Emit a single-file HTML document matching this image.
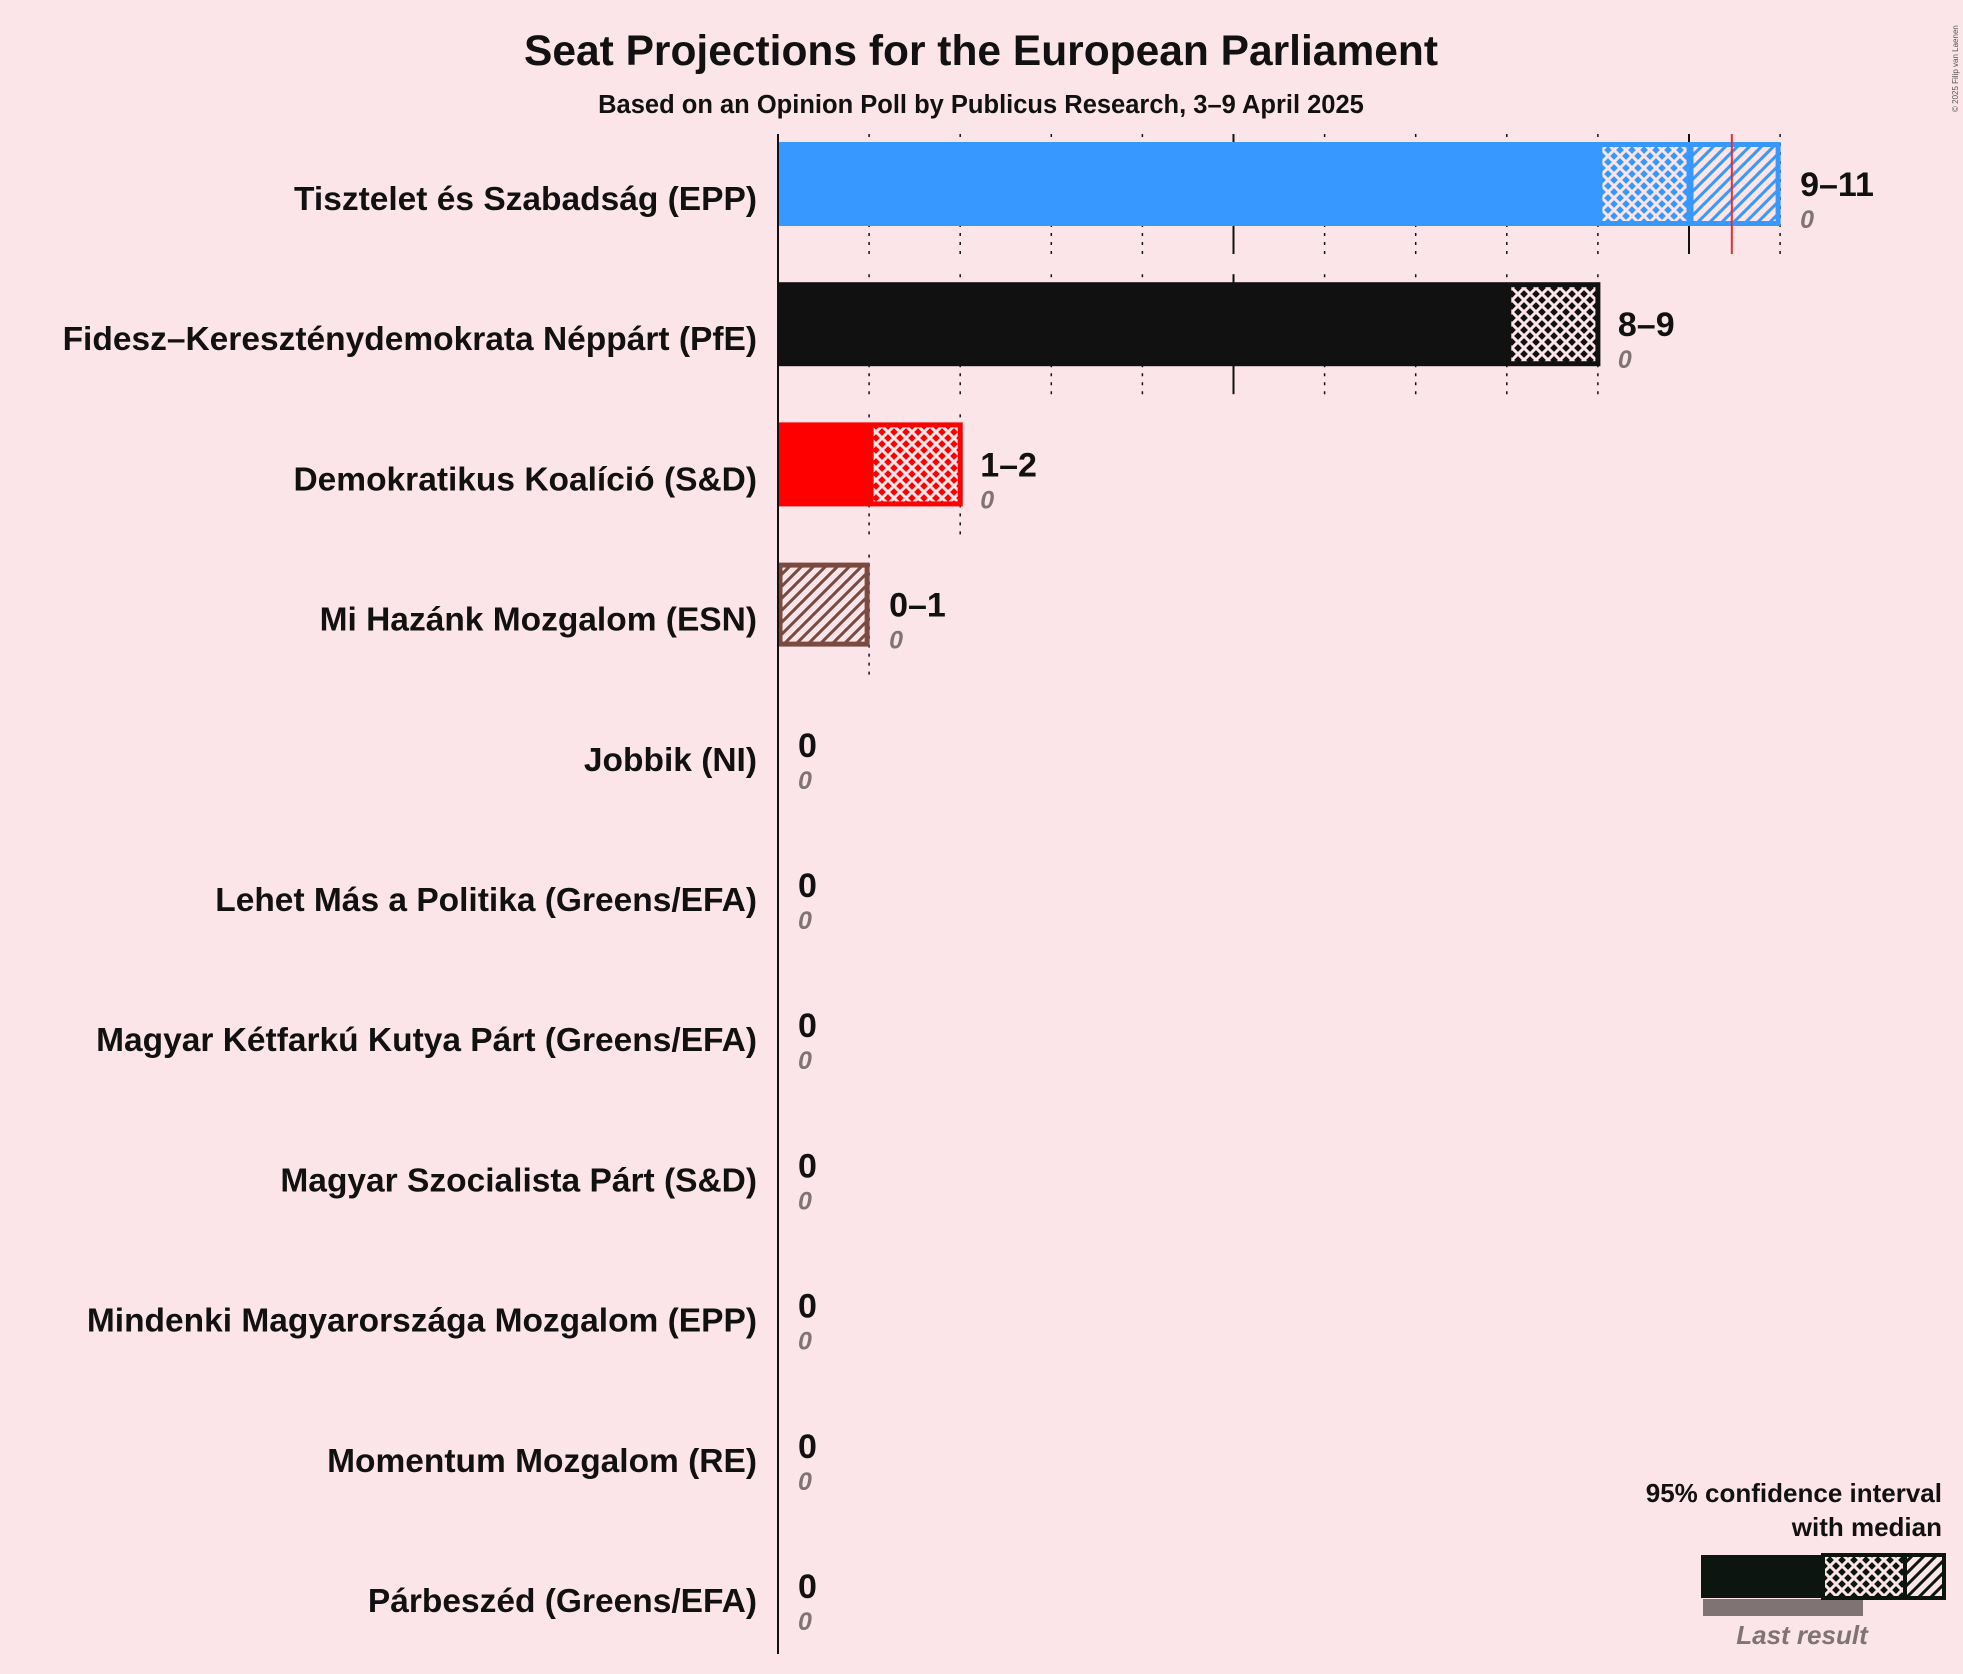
<!DOCTYPE html>
<html><head><meta charset="utf-8">
<style>
html,body{margin:0;padding:0;background:#fce5e8;}
svg{display:block;font-family:"Liberation Sans",sans-serif;}
</style></head>
<body>
<svg id="chart" width="1963" height="1674" viewBox="0 0 1963 1674">
<defs id="defs"></defs>
<rect x="0" y="0" width="1963" height="1674" fill="#fce5e8"/>
<text x="981" y="65" text-anchor="middle" font-size="42.5" font-weight="bold" fill="#111">Seat Projections for the European Parliament</text>
<text x="981" y="113" text-anchor="middle" font-size="25.5" font-weight="bold" fill="#111">Based on an Opinion Poll by Publicus Research, 3–9 April 2025</text>
<text transform="translate(1958,112) rotate(-90)" font-size="8" fill="#555">© 2025 Filip van Laenen</text>
<g id="grid"></g>
<g id="bars"></g>
<line x1="778" y1="134" x2="778" y2="1654" stroke="#111" stroke-width="2"/>
<g id="legend">
<text x="1942" y="1502" text-anchor="end" font-size="26" font-weight="bold" fill="#111">95% confidence interval</text>
<text x="1942" y="1536" text-anchor="end" font-size="26" font-weight="bold" fill="#111">with median</text>
<rect x="1703" y="1599" width="160" height="17" fill="#807374"/>
<rect x="1701" y="1555" width="122" height="43" fill="#0d1510"/>
<rect x="1823" y="1555" width="82" height="43" fill="url(#cross-legend)" stroke="#0d1510" stroke-width="4"/>
<rect x="1905" y="1555" width="39" height="43" fill="url(#diag-legend)" stroke="#0d1510" stroke-width="4"/>
<text x="1802" y="1644" text-anchor="middle" font-size="26" font-style="italic" font-weight="bold" fill="#807374">Last result</text>
</g>
</svg>
<script>
const parties = ["Tisztelet és Szabadság (EPP)","Fidesz–Kereszténydemokrata Néppárt (PfE)","Demokratikus Koalíció (S&D)","Mi Hazánk Mozgalom (ESN)","Jobbik (NI)","Lehet Más a Politika (Greens/EFA)","Magyar Kétfarkú Kutya Párt (Greens/EFA)","Magyar Szocialista Párt (S&D)","Mindenki Magyarországa Mozgalom (EPP)","Momentum Mozgalom (RE)","Párbeszéd (Greens/EFA)"];
const lows = [9,8,1,0,0,0,0,0,0,0,0];
const medians = [10,9,2,0,0,0,0,0,0,0,0];
const highs = [11,9,2,1,0,0,0,0,0,0,0];
const lastResults = [0,0,0,0,0,0,0,0,0,0,0];
const colors = ["#3799ff","#111111","#ff0000","#7a4a40","#888","#888","#888","#888","#888","#888","#888"];
const medianLine = 10.47;

const NS="http://www.w3.org/2000/svg";
const x0=778, seatW=91.1, row0=184, rowH=140.2, barH=84;
const xs=v=>x0+v*seatW;
const ys=i=>row0+i*rowH;
function mk(tag,attrs,parent){const e=document.createElementNS(NS,tag);for(const k in attrs)e.setAttribute(k,attrs[k]);parent.appendChild(e);return e;}
const defs=document.getElementById('defs'), grid=document.getElementById('grid'), bars=document.getElementById('bars');
function patterns(id,color){
  const c=mk('pattern',{id:'cross-'+id,patternUnits:'userSpaceOnUse',width:12,height:12},defs);
  mk('rect',{width:12,height:12,fill:color},c);
  mk('path',{d:'M0,0 L12,12 M12,0 L0,12',stroke:'#fce5e8',"stroke-width":3},c);
  const d=mk('pattern',{id:'diag-'+id,patternUnits:'userSpaceOnUse',width:12,height:12},defs);
  mk('rect',{width:12,height:12,fill:'#fce5e8'},d);
  mk('path',{d:'M-3,3 L3,-3 M0,12 L12,0 M9,15 L15,9',stroke:color,"stroke-width":3},d);
}
patterns('legend','#0d1510');
parties.forEach((p,i)=>{
  const col=colors[i]; patterns('p'+i,col);
  const cy=ys(i), top=cy-barH/2;
  for(let s=1;s<=highs[i];s++){
    const l=mk('line',{x1:xs(s),x2:xs(s),y1:top-8,y2:top+barH+28,stroke:'#111',"stroke-width":s%5===0?2:1.5,"stroke-dasharray":s%5===0?'none':'3,6'},grid);
    
    
  }
  const g=mk('g',{},bars);
  
  
  if(lows[i]>0){
    const r=mk('rect',{x:xs(0),y:top,width:xs(lows[i])-xs(0),height:barH,fill:col},g);
    
    
  }
  if(medians[i]>lows[i]){
    const r=mk('rect',{x:xs(lows[i])+2,y:top+2.5,width:xs(medians[i])-xs(lows[i])-2,height:barH-5,fill:'url(#cross-p'+i+')',stroke:col,"stroke-width":5},g);
    
    
  }
  if(highs[i]>medians[i]){
    const r=mk('rect',{x:xs(medians[i])+2,y:top+2.5,width:xs(highs[i])-xs(medians[i])-4,height:barH-5,fill:'url(#diag-p'+i+')',stroke:col,"stroke-width":5},g);
    
    
  }
  if(i===0){
    const m=mk('line',{x1:xs(medianLine),x2:xs(medianLine),y1:top-8,y2:top+barH+28,stroke:'#e0303a',"stroke-width":2},g);
    
    
  }
  const lab=mk('text',{x:757,y:cy+26,"text-anchor":'end',"font-size":33.5,"font-weight":'bold',fill:'#111'},g);
  lab.textContent=p;
  
  
  const vx=xs(highs[i])+20;
  const v=mk('text',{x:vx,y:cy+12,"font-size":34,"font-weight":'bold',fill:'#111'},g);
  v.textContent=lows[i]===highs[i]?String(lows[i]):lows[i]+'–'+highs[i];
  
  
  const lr=mk('text',{x:vx,y:cy+44,"font-size":25,"font-style":'italic',"font-weight":'bold',fill:'#807374'},g);
  lr.textContent=String(lastResults[i]);
  
  
});
</script>
</body></html>
